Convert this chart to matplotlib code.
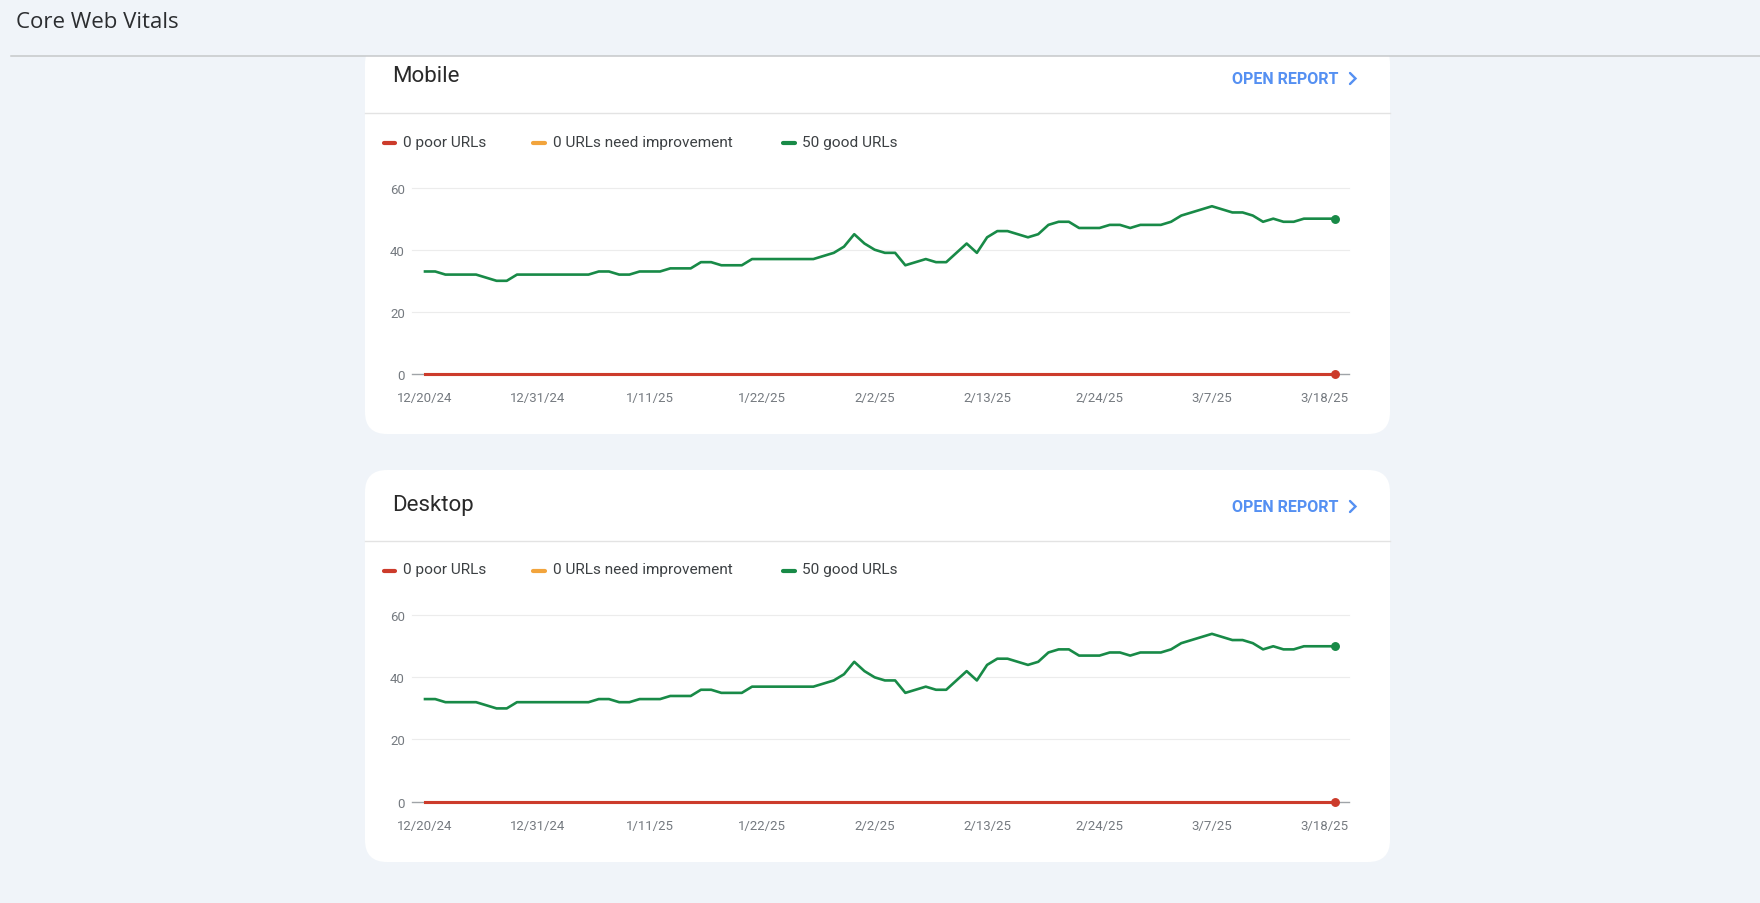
import matplotlib
matplotlib.use("Agg")
import matplotlib.pyplot as plt
from matplotlib.patches import FancyBboxPatch, Rectangle
import pandas as pd
import numpy as np

# ---------------- data ----------------
start_date = "2024-12-20"
n_days = 90
mobile_good = [33, 33, 32, 32, 32, 32, 31, 30, 30, 32,
               32, 32, 32, 32, 32, 32, 32, 33, 33, 32,
               32, 33, 33, 33, 34, 34, 34, 36, 36, 35,
               35, 35, 37, 37, 37, 37, 37, 37, 37, 38,
               39, 41, 45, 42, 40, 39, 39, 35, 36, 37,
               36, 36, 39, 42, 39, 44, 46, 46, 45, 44,
               45, 48, 49, 49, 47, 47, 47, 48, 48, 47,
               48, 48, 48, 49, 51, 52, 53, 54, 53, 52,
               52, 51, 49, 50, 49, 49, 50, 50, 50, 50]
desktop_good = [33, 33, 32, 32, 32, 32, 31, 30, 30, 32,
                32, 32, 32, 32, 32, 32, 32, 33, 33, 32,
                32, 33, 33, 33, 34, 34, 34, 36, 36, 35,
                35, 35, 37, 37, 37, 37, 37, 37, 37, 38,
                39, 41, 45, 42, 40, 39, 39, 35, 36, 37,
                36, 36, 39, 42, 39, 44, 46, 46, 45, 44,
                45, 48, 49, 49, 47, 47, 47, 48, 48, 47,
                48, 48, 48, 49, 51, 52, 53, 54, 53, 52,
                52, 51, 49, 50, 49, 49, 50, 50, 50, 50]
mobile_poor = [0] * n_days
mobile_ni = [0] * n_days
desktop_poor = [0] * n_days
desktop_ni = [0] * n_days

tick_labels = ["12/20/24", "12/31/24", "1/11/25", "1/22/25", "2/2/25",
               "2/13/25", "2/24/25", "3/7/25", "3/18/25"]
y_ticks = [0, 20, 40, 60]
legend_labels = ["0 poor URLs", "0 URLs need improvement", "50 good URLs"]
card_titles = ["Mobile", "Desktop"]
page_title = "Core Web Vitals"
link_text = "OPEN REPORT"

# ---------------- style ----------------
W, H = 1760, 904
BG = "#f0f4f9"
RED = "#cc3b2b"
ORANGE = "#f2a43c"
GREEN = "#188a47"
GRID = "#ececec"
BASE = "#a0a4a8"
TICKC = "#757a80"
TEXT = "#3c4043"
LINK = "#5590f2"

plt.rcParams['font.family'] = ['Roboto', 'DejaVu Sans']

fig = plt.figure(figsize=(W / 100, H / 100), dpi=100)
fig.patch.set_facecolor(BG)

bg = fig.add_axes([0, 0, 1, 1])
bg.set_xlim(0, W)
bg.set_ylim(H, 0)
bg.axis("off")
bg.set_zorder(0)

dates = pd.date_range(start_date, periods=n_days, freq="D")
tick_dates = pd.date_range(start_date, periods=len(tick_labels), freq="11D")

PX_PER_DAY = 10.22
AX_L, AX_R = 412, 1349
X0 = 425


def card(top, bottom, title, good, poor, ni, y60, y0):
    # card
    bg.add_patch(FancyBboxPatch((365, top), 1390 - 365, bottom - top,
                                boxstyle="round,pad=0,rounding_size=22",
                                fc="white", ec="none", zorder=1))
    bg.text(392, top + 34, title, fontsize=16, color="#2a2a2a",
            va="center", ha="left", zorder=3)
    bg.text(1338, top + 36.5, link_text, fontsize=11.5, color=LINK,
            fontweight="semibold", va="center", ha="right", zorder=3)
    cy = top + 36.5
    bg.plot([1350, 1355.5, 1350], [cy - 5.5, cy, cy + 5.5], color=LINK,
            lw=1.7, solid_capstyle="round", solid_joinstyle="miter", zorder=3)
    bg.plot([365, 1390], [top + 71, top + 71], color="#e3e3e3", lw=1, zorder=2)
    # legend
    ly = top + 99.5
    for (x1, x2, tx), col, lab in zip([(384, 395, 403), (533, 545, 553), (783, 795, 802)],
                                      [RED, ORANGE, GREEN], legend_labels):
        bg.plot([x1, x2], [ly + 1, ly + 1], color=col, lw=3, solid_capstyle="round", zorder=3)
        bg.text(tx, ly, lab, fontsize=11.1, color=TEXT, va="center", ha="left", zorder=3)

    # chart axes
    ax = fig.add_axes([AX_L / W, 1 - y0 / H, (AX_R - AX_L) / W, (y0 - y60) / H])
    ax.set_zorder(2)
    ax.patch.set_alpha(0)
    xmin = dates[0] - pd.Timedelta(days=(X0 - AX_L) / PX_PER_DAY)
    xmax = dates[-1] + pd.Timedelta(days=(AX_R - (X0 + (n_days - 1) * PX_PER_DAY)) / PX_PER_DAY)
    ax.set_xlim(xmin, xmax)
    ax.set_ylim(0, 60)
    for v in y_ticks[1:]:
        ax.axhline(v, color=GRID, lw=0.8, zorder=1, clip_on=False)
    ax.axhline(0, color=BASE, lw=1.0, zorder=1, clip_on=False)
    ax.plot(dates, good, color=GREEN, lw=1.9, zorder=3, clip_on=False,
            solid_joinstyle="round")
    ax.plot(dates, ni, color=ORANGE, lw=2.2, zorder=3, clip_on=False)
    ax.plot(dates, poor, color=RED, lw=2.2, zorder=4, clip_on=False)
    ax.plot(dates[-1], good[-1], "o", ms=5.4, color=GREEN, zorder=5, clip_on=False)
    ax.plot(dates[-1], poor[-1], "o", ms=5.4, color=RED, zorder=5, clip_on=False)
    for s in ax.spines.values():
        s.set_visible(False)
    ax.set_yticks(y_ticks)
    ax.set_yticklabels([str(v) for v in y_ticks])
    ax.set_xticks(tick_dates)
    ax.set_xticklabels(tick_labels)
    ax.tick_params(axis="y", length=0, pad=5, labelsize=9.5, labelcolor=TICKC)
    ax.tick_params(axis="x", length=0, pad=12.5, labelsize=9.5, labelcolor=TICKC)
    return ax


card(43, 435, card_titles[0], mobile_good, mobile_poor, mobile_ni, 188.6, 375.0)
card(471, 863, card_titles[1], desktop_good, desktop_poor, desktop_ni, 616.2, 802.6)

# header overlay
bg.add_patch(Rectangle((0, 0), W, 56.5, fc=BG, ec="none", zorder=5))
bg.plot([11, W], [56.5, 56.5], color="#c6c8ca", lw=1.1, zorder=6)
bg.text(16, 22, page_title, fontsize=16, color="#2b2d30", va="center", ha="left",
        family=["Open Sans", "DejaVu Sans"], zorder=7)

fig.savefig("out.png", dpi=100, facecolor=BG)
